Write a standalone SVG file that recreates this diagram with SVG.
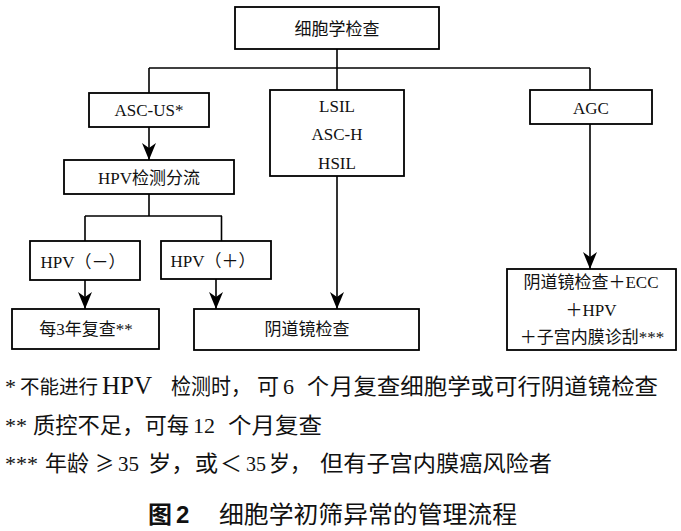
<svg xmlns="http://www.w3.org/2000/svg" width="681" height="531" viewBox="0 0 681 531">
<style>
.box{fill:#fff;stroke:#000;stroke-width:1.8}
.ln{fill:none;stroke:#000;stroke-width:1.6}
.t{font-family:"Liberation Serif","Noto Sans CJK SC",serif;font-size:17px;fill:#111;text-anchor:middle;dominant-baseline:central}
.f{font-family:"Liberation Serif","Noto Sans CJK SC",serif;font-size:22px;fill:#111}
.c{font-family:"Liberation Serif","Noto Sans CJK SC",serif;font-size:24px;fill:#111}
</style>
<defs>
<marker id="ah" markerUnits="userSpaceOnUse" markerWidth="20" markerHeight="16" refX="17" refY="7" orient="auto" overflow="visible">
<path d="M17,7 L0,0 L5,7 L0,14 Z" fill="#000"/>
</marker>
</defs>
<g id="connectors">
<path class="ln" d="M337,49 V90"/>
<path class="ln" d="M149,68 H590"/>
<path class="ln" d="M149,68 V93"/>
<path class="ln" d="M590,68 V90"/>
<path class="ln" d="M149,127 V160" marker-end="url(#ah)"/>
<path class="ln" d="M337,176 V309" marker-end="url(#ah)"/>
<path class="ln" d="M590,124 V269" marker-end="url(#ah)"/>
<path class="ln" d="M149,194 V216 M85,216 H222 M85,216 V241 M221.5,216 V241"/>
<path class="ln" d="M85,280 V309" marker-end="url(#ah)"/>
<path class="ln" d="M216,279 V309" marker-end="url(#ah)"/>
</g>
<g id="n-cyto"><rect class="box" x="235" y="7" width="204" height="42"/><text class="t" x="337" y="29">细胞学检查</text></g>
<g id="n-ascus"><rect class="box" x="89" y="93" width="120" height="34"/><text class="t" x="149" y="110">ASC-US*</text></g>
<g id="n-lsil"><rect class="box" x="270" y="90" width="134" height="86"/><text class="t" x="337" y="106">LSIL</text><text class="t" x="337" y="134">ASC-H</text><text class="t" x="337" y="163">HSIL</text></g>
<g id="n-agc"><rect class="box" x="530" y="90" width="122" height="34"/><text class="t" x="591" y="108">AGC</text></g>
<g id="n-hpvtri"><rect class="box" x="64" y="160" width="170" height="34"/><text class="t" x="149" y="178">HPV检测分流</text></g>
<g id="n-hpvneg"><rect class="box" x="30" y="241" width="110" height="39"/><text class="t" x="83" y="262">HPV（－）</text></g>
<g id="n-hpvpos"><rect class="box" x="161" y="241" width="110" height="38"/><text class="t" x="213" y="261">HPV（＋）</text></g>
<g id="n-3yr"><rect class="box" x="12" y="309" width="147" height="40"/><text class="t" x="86" y="329">每3年复查**</text></g>
<g id="n-colpo"><rect class="box" x="194" y="309" width="225" height="41"/><text class="t" x="307" y="329">阴道镜检查</text></g>
<g id="n-colpo2"><rect class="box" x="507" y="269" width="169" height="81"/><text class="t" x="591" y="282">阴道镜检查＋ECC</text><text class="t" x="591" y="310">＋HPV</text><text class="t" x="592" y="337">＋子宫内膜诊刮***</text></g>
<g id="notes">
<text class="f" x="5" y="394">*</text>
<text class="f" x="20" y="394" style="font-size:19.5px">不能进行</text>
<text class="f" x="102" y="394" style="font-size:25px">HPV</text>
<text class="f" x="171" y="394" textLength="80" lengthAdjust="spacingAndGlyphs">检测时，</text>
<text class="f" x="257" y="394">可</text>
<text class="f" x="283" y="394">6</text>
<text class="f" x="307" y="394">个</text>
<text class="f" x="330" y="394" textLength="328" lengthAdjust="spacingAndGlyphs">月复查细胞学或可行阴道镜检查</text>
<text class="f" x="5" y="433">**</text>
<text class="f" x="33" y="433" textLength="156" lengthAdjust="spacingAndGlyphs">质控不足，可每</text>
<text class="f" x="193" y="433">12</text>
<text class="f" x="228" y="433" textLength="94" lengthAdjust="spacingAndGlyphs">个月复查</text>
<text class="f" x="5" y="471">***</text>
<text class="f" x="45" y="471">年龄</text>
<text class="f" x="95" y="471" style="font-family:'Noto Sans CJK SC',sans-serif" textLength="19" lengthAdjust="spacingAndGlyphs">≥</text>
<text class="f" x="118" y="471" textLength="21" lengthAdjust="spacingAndGlyphs">35</text>
<text class="f" x="148" y="471" textLength="70" lengthAdjust="spacingAndGlyphs">岁，或</text>
<text class="f" x="220" y="471" textLength="22" lengthAdjust="spacingAndGlyphs">＜</text>
<text class="f" x="246" y="471" textLength="20" lengthAdjust="spacingAndGlyphs">35</text>
<text class="f" x="269" y="471" textLength="42" lengthAdjust="spacingAndGlyphs">岁，</text>
<text class="f" x="320" y="471" textLength="232" lengthAdjust="spacingAndGlyphs">但有子宫内膜癌风险者</text>
</g>
<g id="caption">
<text class="c" x="148" y="523" font-weight="bold">图</text>
<text class="c" x="176" y="523" style="font-family:'Liberation Sans',sans-serif" font-weight="bold">2</text>
<text class="c" x="219" y="523" textLength="298" lengthAdjust="spacingAndGlyphs">细胞学初筛异常的管理流程</text>
</g>
</svg>
